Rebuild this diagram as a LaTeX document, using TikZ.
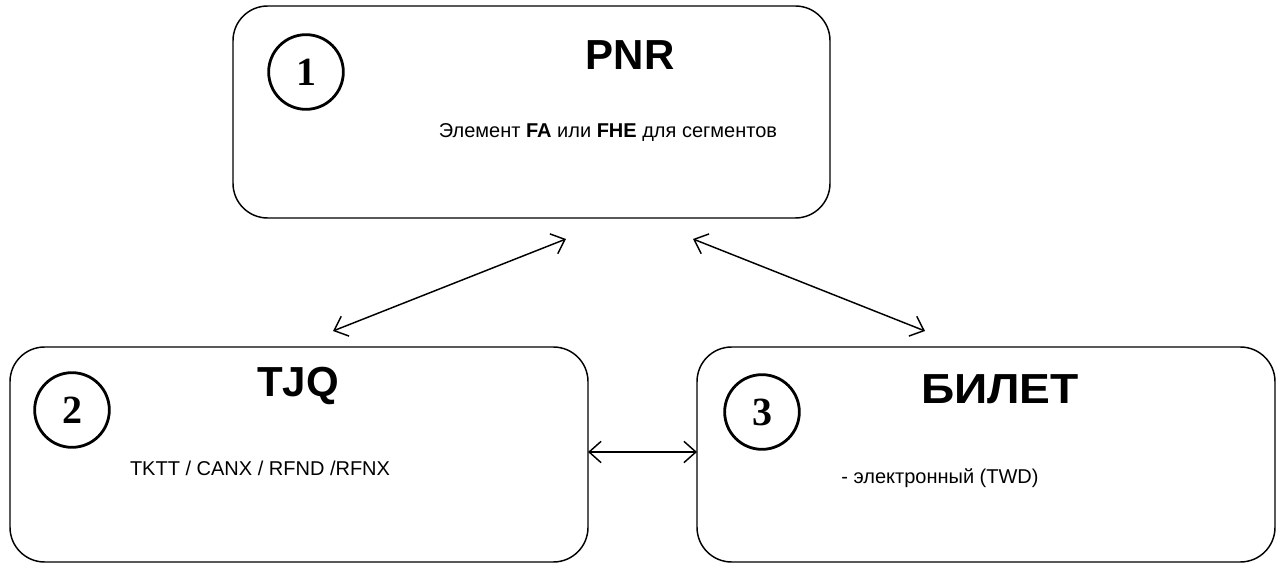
\documentclass[tikz,border=0pt]{standalone}
\usepackage{fontspec}
\setmainfont{Liberation Sans}
\newfontfamily\numfont{Liberation Serif}
\usetikzlibrary{arrows.meta}
\begin{document}
\begin{tikzpicture}[x=0.75pt,y=-0.75pt,
  box/.style={draw,line width=1.1pt,rounded corners=26pt,minimum width=433.5pt,minimum height=161.25pt,outer sep=0pt,inner sep=0pt},
  numc/.style={draw,circle,line width=2.1pt,minimum size=56pt,inner sep=0pt,font=\numfont\bfseries\fontsize{30}{30}\selectfont},
  ttl/.style={font=\bfseries\fontsize{31.5}{31.5}\selectfont},
  txt/.style={font=\fontsize{15}{18}\selectfont},
  conn/.style={line width=1.1pt,{Straight Barb[length=9pt,width=16pt,line width=1.1pt]}-{Straight Barb[length=9pt,width=16pt,line width=1.1pt]}}]
\useasboundingbox (0,0) rectangle (1282,566);
\node[box,minimum width=447.75pt,minimum height=159pt] (pnr) at (531.5,112) {};
\node[box] (tjq) at (299,454.5) {};
\node[box] (bil) at (986,454.5) {};
\node[numc] (c1) at (306,72) {1};
\node[numc] (c2) at (72,410) {2};
\node[numc] (c3) at (762,412) {3};
\node[ttl] (t1) at (630,55) {PNR};
\node[ttl] (t2) at (298,386) {TJQ};
\node[ttl] (t3) at (1000,389) {\scalebox{1.1}[1]{БИЛЕТ}};
\node[txt] (b1) at (608,133) {Элемент \textbf{FA} или \textbf{FHE} для сегментов};
\node[txt] (b2) at (260,468) {TKTT / CANX / RFND /RFNX};
\node[txt] (b3) at (940,478) {- электронный (TWD)};
\coordinate (a1) at (333,331);
\coordinate (a2) at (566,239);
\coordinate (a3) at (693,239);
\coordinate (a4) at (925,331);
\draw[conn] (a1) -- (a2);
\draw[conn] (a3) -- (a4);
\draw[conn] (tjq.east |- 0,452) -- (bil.west |- 0,452);
\end{tikzpicture}
\end{document}
